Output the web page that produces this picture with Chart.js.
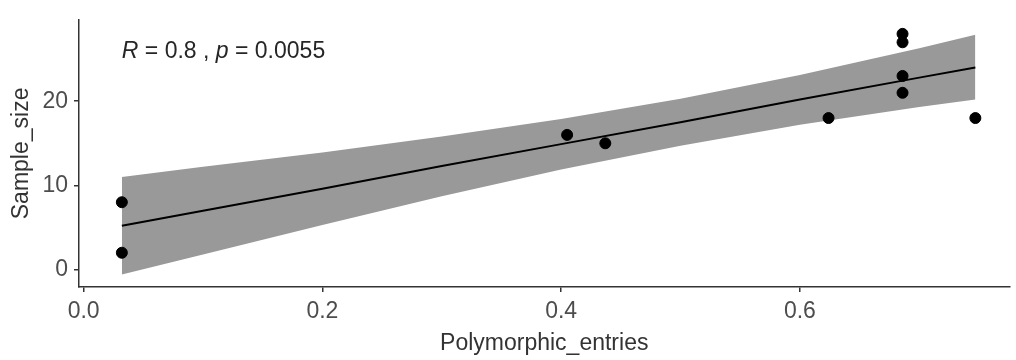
<!DOCTYPE html>
<html>
<head>
<meta charset="utf-8">
<script src="https://cdn.jsdelivr.net/npm/chart.js@4"></script>
<style>
  body { margin: 0; background: #fff; }
  #wrap { width: 1016px; height: 360px; }
</style>
</head>
<body>
<div id="wrap"><canvas id="chart"></canvas></div>
<script>
// observed points
const entries = [0.032, 0.032, 0.405, 0.437, 0.624, 0.686, 0.686, 0.686, 0.686, 0.747];
const sampleSize = [8, 2, 16, 15, 18, 28, 27, 23, 21, 18];

// fitted line and confidence band
const bandX = [0.032, 0.1, 0.2, 0.3, 0.4, 0.5, 0.6, 0.7, 0.747];
const bandUpper = [11.0, 12.2, 13.9, 15.8, 17.9, 20.3, 23.1, 26.3, 27.9];
const bandLower = [-0.6, 1.8, 5.3, 8.7, 11.9, 14.7, 17.2, 19.3, 20.2];
const fitY = [5.2, 7.0, 9.6, 12.3, 14.9, 17.5, 20.2, 22.8, 24.0];

const xTicks = [0, 0.2, 0.4, 0.6];
const yTicks = [0, 10, 20];

const statLabel = { x: 0.032, y: 25.9 };

const FONT = "'Liberation Sans', Arial, sans-serif";
const axisColor = "#333333";
const textColor = "#4d4d4d";

const pairs = (xs, ys) => xs.map((x, i) => ({ x: x, y: ys[i] }));

const statText = {
  id: "statText",
  afterDatasetsDraw(chart) {
    const ctx = chart.ctx;
    const x0 = chart.scales.x.getPixelForValue(statLabel.x);
    const y0 = chart.scales.y.getPixelForValue(statLabel.y);
    const parts = [
      ["R", true], [" = 0.8 , ", false], ["p", true], [" = 0.0055", false],
    ];
    ctx.save();
    ctx.fillStyle = "#262626";
    ctx.textBaseline = "middle";
    let x = x0;
    parts.forEach(([txt, italic]) => {
      ctx.font = (italic ? "italic " : "") + "23px " + FONT;
      ctx.fillText(txt, x, y0);
      x += ctx.measureText(txt).width;
    });
    ctx.restore();
  },
};

new Chart(document.getElementById("chart"), {
  type: "scatter",
  data: {
    datasets: [
      {
        data: pairs(entries, sampleSize),
        backgroundColor: "#000",
        borderColor: "#000",
        pointRadius: 5.5,
        order: 0,
      },
      {
        type: "line",
        data: pairs(bandX, fitY),
        borderColor: "#000",
        borderWidth: 2,
        pointRadius: 0,
        fill: false,
        tension: 0,
        order: 1,
      },
      {
        type: "line",
        data: pairs(bandX, bandUpper),
        borderWidth: 0,
        borderColor: "rgba(0,0,0,0)",
        backgroundColor: "#999999",
        pointRadius: 0,
        fill: "+1",
        tension: 0,
        order: 2,
      },
      {
        type: "line",
        data: pairs(bandX, bandLower),
        borderWidth: 0,
        borderColor: "rgba(0,0,0,0)",
        pointRadius: 0,
        fill: false,
        tension: 0,
        order: 3,
      },
    ],
  },
  options: {
    responsive: true,
    maintainAspectRatio: false,
    animation: false,
    layout: { padding: { top: 14, right: 0, left: 0, bottom: 0 } },
    plugins: {
      legend: { display: false },
      tooltip: { enabled: false },
    },
    scales: {
      x: {
        type: "linear",
        min: -0.0039,
        max: 0.7756,
        afterFit: (s) => { s.height = 73; },
        afterBuildTicks: (s) => { s.ticks = xTicks.map((v) => ({ value: v })); },
        grid: { display: true, drawOnChartArea: false, drawTicks: true, tickLength: 5, color: axisColor, lineWidth: 1.5 },
        border: { display: true, color: axisColor, width: 1.5 },
        ticks: {
          color: textColor,
          font: { family: FONT, size: 23 },
          padding: 6,
          maxRotation: 0,
          callback: (v) => v.toFixed(1),
        },
        title: {
          display: true,
          text: "Polymorphic_entries",
          color: "#333333",
          font: { family: FONT, size: 23 },
          padding: { top: 0, bottom: 3 },
        },
      },
      y: {
        type: "linear",
        min: -2.07,
        max: 29.67,
        afterFit: (s) => { s.width = 79; },
        afterBuildTicks: (s) => { s.ticks = yTicks.map((v) => ({ value: v })); },
        grid: { display: true, drawOnChartArea: false, drawTicks: true, tickLength: 5, color: axisColor, lineWidth: 1.5 },
        border: { display: true, color: axisColor, width: 1.5 },
        ticks: {
          color: textColor,
          font: { family: FONT, size: 23 },
          padding: 6,
        },
        title: {
          display: true,
          text: "Sample_size",
          color: "#333333",
          font: { family: FONT, size: 23 },
          padding: { top: 8, bottom: 0 },
        },
      },
    },
  },
  plugins: [statText],
});
</script>
</body>
</html>
